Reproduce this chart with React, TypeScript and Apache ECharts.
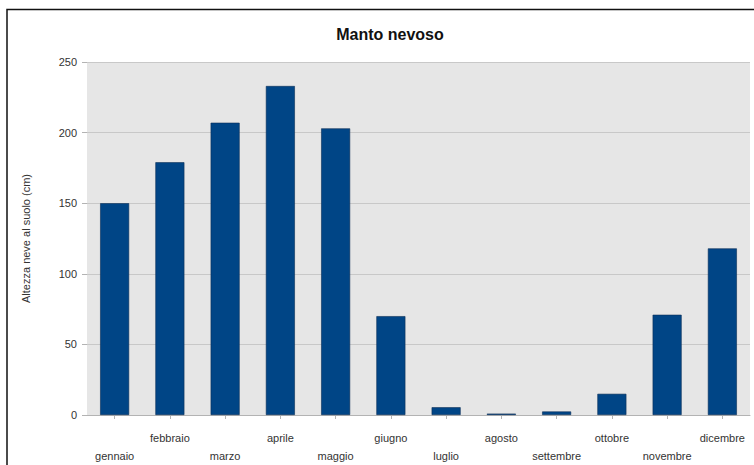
import React, { useEffect, useRef } from "react";
import * as echarts from "echarts";

const categories = [
  "gennaio", "febbraio", "marzo", "aprile", "maggio", "giugno",
  "luglio", "agosto", "settembre", "ottobre", "novembre", "dicembre",
];
const snowDepth = [150, 179, 207, 233, 203, 70, 5.5, 1, 2.5, 15, 71, 118];
const yTicks = { min: 0, max: 250, interval: 50 };
const title = "Manto nevoso";
const yName = "Altezza neve al suolo (cm)";

export default function App() {
  const ref = useRef<HTMLDivElement>(null);
  useEffect(() => {
    if (!ref.current) return;
    const chart = echarts.init(ref.current, undefined, { renderer: "svg" });
    chart.setOption({
      animation: false,
      backgroundColor: "#ffffff",
      title: {
        text: title,
        left: 385,
        textAlign: "center",
        top: 21,
        textStyle: {
          fontFamily: "Liberation Sans",
          fontSize: 16,
          fontWeight: "bold",
          color: "#111111",
        },
      },
      graphic: [
        {
          type: "polyline",
          shape: { points: [[7, 470], [7, 9.5], [770, 9.5]] },
          style: { stroke: "#111111", lineWidth: 1.5, fill: "none" },
          silent: true,
          z: 100,
        },
      ],
      grid: {
        left: 87,
        right: 4,
        top: 62,
        bottom: 49.5,
        show: true,
        backgroundColor: "#e6e6e6",
        borderWidth: 0,
      },
      xAxis: {
        type: "category",
        data: categories,
        axisLine: { show: true, lineStyle: { color: "#b3b3b3", width: 1 } },
        axisTick: {
          show: true,
          alignWithLabel: true,
          length: 4,
          lineStyle: { color: "#b3b3b3" },
        },
        axisLabel: {
          interval: 0,
          margin: 14,
          color: "#333333",
          fontFamily: "Liberation Sans",
          fontSize: 11,
          lineHeight: 18,
          formatter: (v: string, i: number) => (i % 2 === 0 ? "\n" + v : v),
        },
      },
      yAxis: {
        type: "value",
        min: yTicks.min,
        max: yTicks.max,
        interval: yTicks.interval,
        name: yName,
        nameLocation: "middle",
        nameGap: 56,
        nameTextStyle: {
          fontFamily: "Liberation Sans",
          fontSize: 11,
          color: "#333333",
        },
        axisLine: { show: false },
        axisTick: { show: true, length: 5, lineStyle: { color: "#b3b3b3" } },
        splitLine: { show: true, lineStyle: { color: "#c8c8c8", width: 1 } },
        axisLabel: {
          margin: 10,
          color: "#333333",
          fontFamily: "Liberation Sans",
          fontSize: 11,
        },
      },
      series: [
        {
          type: "bar",
          data: snowDepth,
          barWidth: 29,
          itemStyle: { color: "#004586", borderColor: "#0b2f57", borderWidth: 0.6 },
        },
      ],
    });
    return () => chart.dispose();
  }, []);
  return (
    <div
      ref={ref}
      style={{ position: "absolute", left: 0, top: 0, width: 754, height: 465, overflow: "hidden" }}
    />
  );
}
